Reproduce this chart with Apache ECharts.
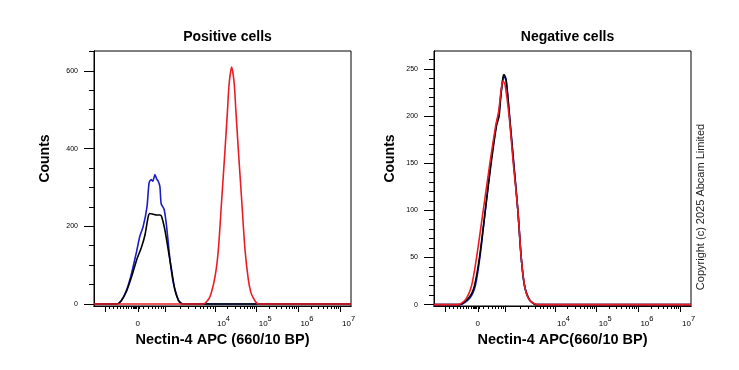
<!DOCTYPE html>
<html>
<head>
<meta charset="utf-8">
<script src="https://cdn.jsdelivr.net/npm/echarts@6/dist/echarts.min.js"></script>
<style>html,body{margin:0;padding:0;background:#fff;}#c{width:739px;height:370px;}</style>
</head>
<body>
<div id="c"></div>
<script>
// x values are in display-scale units (decade positions on the biexponential axis)
const xMin = 1.1, xMax = 7.26;

// Positive cells
const posBlueX = [1.1, 1.64, 1.75, 1.88, 2.00, 2.12, 2.20, 2.28, 2.37, 2.42, 2.47, 2.51, 2.56, 2.60, 2.64, 2.68, 2.71, 2.78, 2.84, 2.92, 3.00, 3.10, 3.16, 3.24, 7.26];
const posBlueY = [0, 0, 8, 36, 79, 135, 175, 200, 250, 312, 320, 316, 333, 322, 316, 302, 258, 244, 200, 115, 55, 17, 5, 0, 0];
const posBlackX = [1.1, 1.64, 1.75, 1.88, 2.00, 2.12, 2.24, 2.32, 2.40, 2.44, 2.52, 2.60, 2.68, 2.72, 2.80, 2.88, 2.96, 3.04, 3.12, 3.18, 3.24, 7.26];
const posBlackY = [0, 0, 8, 33, 70, 113, 147, 177, 225, 233, 231, 229, 229, 225, 190, 139, 87, 36, 10, 2, 0, 0];
const posRedX = [1.1, 3.72, 3.78, 3.88, 4.00, 4.08, 4.16, 4.24, 4.30, 4.34, 4.40, 4.46, 4.50, 4.56, 4.64, 4.72, 4.80, 4.86, 4.92, 4.98, 5.04, 7.26];
const posRedY = [0, 0, 4, 19, 70, 139, 267, 396, 499, 568, 610, 568, 499, 396, 267, 139, 62, 30, 15, 5, 0, 0];

// Negative cells
const negBlueX = [1.1, 1.73, 1.96, 2.09, 2.20, 2.33, 2.46, 2.59, 2.65, 2.70, 2.75, 2.78, 2.83, 2.91, 3.01, 3.11, 3.19, 3.27, 3.39, 3.55, 7.26];
const negBlueY = [0, 0, 7, 20, 50, 100, 150, 190, 202, 222, 239, 242, 237, 200, 150, 100, 50, 20, 5, 0, 0];
const negBlackX = [1.1, 1.71, 1.95, 2.07, 2.19, 2.33, 2.47, 2.60, 2.66, 2.70, 2.75, 2.78, 2.83, 2.91, 3.01, 3.11, 3.19, 3.27, 3.39, 3.55, 7.26];
const negBlackY = [0, 0, 8, 20, 50, 100, 150, 190, 200, 220, 240, 244, 238, 200, 150, 100, 50, 20, 5, 0, 0];
const negRedX = [1.1, 1.67, 1.85, 2.00, 2.12, 2.28, 2.44, 2.58, 2.65, 2.71, 2.75, 2.80, 2.90, 3.00, 3.11, 3.19, 3.28, 3.40, 3.59, 7.26];
const negRedY = [0, 0, 5, 20, 50, 100, 150, 190, 205, 228, 237, 234, 200, 150, 100, 50, 18, 4, 0, 0];

// Axis ticks and labels
const xMajorTicks = [1.36, 2.15, 2.80, 4, 5, 6, 7];
const xMinorTicks = [1.46, 1.55, 1.65, 1.72, 1.79, 1.87, 1.91, 1.99, 2.03, 2.07, 2.09, 2.12, 2.19, 2.28, 2.40, 2.50, 2.58, 2.64, 2.70, 2.75,
  3.16, 3.37, 3.52, 3.64, 3.73, 3.81, 3.88, 3.95,
  4.30, 4.48, 4.60, 4.70, 4.78, 4.85, 4.90, 4.95,
  5.30, 5.48, 5.60, 5.70, 5.78, 5.85, 5.90, 5.95,
  6.30, 6.48, 6.60, 6.70, 6.78, 6.85, 6.90, 6.95];
const xLabelVals = [2.15, 4, 5, 6, 7];
const xLabelExp = [null, 4, 5, 6, 7];

const posYRange = [-5, 651];
const posYMajor = [0, 200, 400, 600];
const posYMinor = [50, 100, 150, 250, 300, 350, 450, 500, 550, 650];
const negYRange = [-1.5, 269];
const negYMajor = [0, 50, 100, 150, 200, 250];
const negYMinor = [10, 20, 30, 40, 60, 70, 80, 90, 110, 120, 130, 140, 160, 170, 180, 190, 210, 220, 230, 240, 260];

const titles = ['Positive cells', 'Negative cells'];
const xNames = ['Nectin-4 APC (660/10 BP)', 'Nectin-4 APC(660/10 BP)'];
const yName = 'Counts';
const colors = { blue: '#1c1cc8', black: '#000000', red: '#ec1c24' };

const FONT = 'Liberation Sans, Arial, sans-serif';
const zip = (xs, ys) => xs.map((x, i) => [x, ys[i]]);

function xLabelFmt(v) {
  let idx = 0, best = Infinity;
  xLabelVals.forEach((lv, i) => { const d = Math.abs(lv - v); if (d < best) { best = d; idx = i; } });
  const e = xLabelExp[idx];
  return e == null ? '{b|0}' : '{p|}{b|10}{s|' + e + '}';
}

const grids = [
  { left: 94, top: 51, width: 257, height: 255 },
  { left: 434, top: 51, width: 257, height: 255 }
];

const xAxes = [], yAxes = [];
[0, 1].forEach(g => {
  xAxes.push({
    type: 'value', gridIndex: g, min: xMin, max: xMax, position: 'bottom',
    axisLine: { show: true, onZero: false, lineStyle: { color: '#000', width: 1 } },
    axisTick: { show: true, customValues: xMajorTicks, length: 6, lineStyle: { color: '#000', width: 1 } },
    axisLabel: {
      customValues: xLabelVals, formatter: xLabelFmt, margin: 9, color: '#000',
      rich: {
        p: { width: 17, fontSize: 8 },
        b: { fontSize: 8, lineHeight: 18, fontFamily: FONT, color: '#000' },
        s: { fontSize: 7.5, verticalAlign: 'top', fontFamily: FONT, color: '#000' }
      }
    },
    splitLine: { show: false },
    name: xNames[g], nameLocation: 'middle', nameGap: 25,
    nameTextStyle: { fontSize: 14.5, fontWeight: 'bold', fontFamily: FONT, color: '#000' }
  });
  xAxes.push({
    type: 'value', gridIndex: g, min: xMin, max: xMax, position: 'bottom', offset: 0,
    axisLine: { show: true, onZero: false, lineStyle: { color: '#000', width: 1 } },
    axisTick: { show: true, customValues: xMinorTicks, length: 3, lineStyle: { color: '#000', width: 1 } },
    axisLabel: { show: false },
    splitLine: { show: false }
  });
  const yr = g === 0 ? posYRange : negYRange;
  const ymaj = g === 0 ? posYMajor : negYMajor;
  const ymin = g === 0 ? posYMinor : negYMinor;
  yAxes.push({
    type: 'value', gridIndex: g, min: yr[0], max: yr[1], position: 'left',
    axisLine: { show: true, onZero: false, lineStyle: { color: '#000', width: 1 } },
    axisTick: { show: true, customValues: ymaj, length: 10, lineStyle: { color: '#000', width: 1 } },
    axisLabel: { customValues: ymaj, margin: 16, fontSize: 7, fontFamily: FONT, color: '#000' },
    splitLine: { show: false },
    name: yName, nameLocation: 'middle', nameGap: g === 0 ? 42 : 37, nameRotate: 90,
    nameTextStyle: { fontSize: 14, fontWeight: 'bold', fontFamily: FONT, color: '#000', padding: [0, 0, 0, 40] }
  });
  yAxes.push({
    type: 'value', gridIndex: g, min: yr[0], max: yr[1], position: 'left', offset: 0,
    axisLine: { show: true, onZero: false, lineStyle: { color: '#000', width: 1 } },
    axisTick: { show: true, customValues: ymin, length: 5, lineStyle: { color: '#000', width: 1 } },
    axisLabel: { show: false },
    splitLine: { show: false }
  });
});

function line(name, xs, ys, color, axisBase) {
  return {
    name, type: 'line', xAxisIndex: axisBase, yAxisIndex: axisBase,
    data: zip(xs, ys), showSymbol: false, smooth: 0.25,
    lineStyle: { color, width: 1.6 }, itemStyle: { color }, z: 2
  };
}

const option = {
  animation: false,
  backgroundColor: '#fff',
  title: [
    { text: titles[0], left: 222.5, top: 25, textAlign: 'center', textStyle: { fontSize: 14, fontWeight: 'bold', fontFamily: FONT, color: '#000' } },
    { text: titles[1], left: 562.5, top: 25, textAlign: 'center', textStyle: { fontSize: 14, fontWeight: 'bold', fontFamily: FONT, color: '#000' } }
  ],
  grid: grids.map(g => Object.assign({ show: true, borderColor: '#000', borderWidth: 1, backgroundColor: 'transparent' }, g)),
  xAxis: xAxes,
  yAxis: yAxes,
  series: [
    line('Positive blue', posBlueX, posBlueY, colors.blue, 0),
    line('Positive black', posBlackX, posBlackY, colors.black, 0),
    line('Positive red', posRedX, posRedY, colors.red, 0),
    line('Negative blue', negBlueX, negBlueY, colors.blue, 2),
    line('Negative black', negBlackX, negBlackY, colors.black, 2),
    line('Negative red', negRedX, negRedY, colors.red, 2)
  ],
  graphic: [{
    type: 'text', x: 701, y: 207, rotation: Math.PI / 2,
    style: { text: 'Copyright (c) 2025 Abcam Limited', fontSize: 11, fontFamily: FONT, fill: '#222', align: 'center', verticalAlign: 'middle' }
  }]
};

const chart = echarts.init(document.getElementById('c'), null, { renderer: 'canvas' });
chart.setOption(option);
</script>
</body>
</html>
